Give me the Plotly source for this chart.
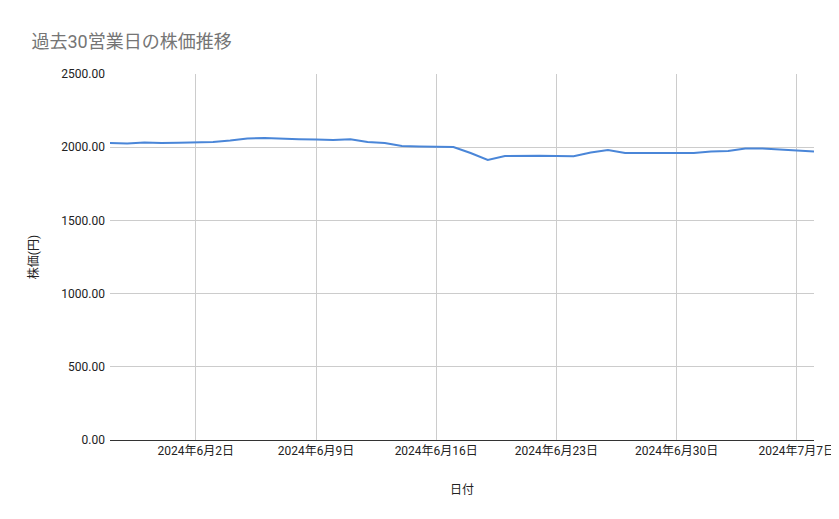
import pandas as pd
import plotly.graph_objects as go

# daily closing price
dates = pd.date_range("2024-05-28", "2024-07-08", freq="D")
prices = [2028, 2025, 2032, 2028, 2030, 2033, 2035, 2045, 2060, 2063,
          2056, 2054, 2052, 2050, 2054, 2035, 2028, 2008, 2004, 2003,
          2001, 1960, 1913, 1940, 1943, 1942, 1940, 1939, 1964, 1981,
          1960, 1960, 1960, 1960, 1960, 1970, 1974, 1991, 1991, 1984,
          1977, 1970]

tick_dates = pd.date_range("2024-06-02", "2024-07-07", freq="7D")
tick_labels = [f"{d.year}年{d.month}月{d.day}日" for d in tick_dates]

font = "Roboto, 'Noto Sans CJK JP', sans-serif"

fig = go.Figure()
fig.add_trace(go.Scatter(x=dates, y=prices, mode="lines",
                         line=dict(color="#4a86d8", width=2)))

fig.update_layout(
    width=839, height=519,
    paper_bgcolor="white", plot_bgcolor="white",
    margin=dict(l=102, r=26, t=66, b=87),
    showlegend=False,
    font=dict(family=font, size=12, color="#222"),
    title=dict(text="過去30営業日の株価推移", x=0.028, y=0.935,
               xanchor="left", yanchor="middle",
               font=dict(size=18, color="#757575", family=font)),
)
fig.update_xaxes(
    range=[dates[0], dates[-1]],
    tickvals=tick_dates, ticktext=tick_labels,
    showgrid=True, gridcolor="#cccccc",
    showline=True, linecolor="#333", ticks="",
    title=dict(text="日付", font=dict(size=12), standoff=28),
)
fig.update_yaxes(
    range=[0, 2500], dtick=500, tickformat=".2f",
    showgrid=True, gridcolor="#cccccc", zeroline=False,
    ticks="", ticklabelstandoff=4,
    title=dict(text="株価(円)", font=dict(size=12), standoff=20),
)

fig.write_html("out.html")
